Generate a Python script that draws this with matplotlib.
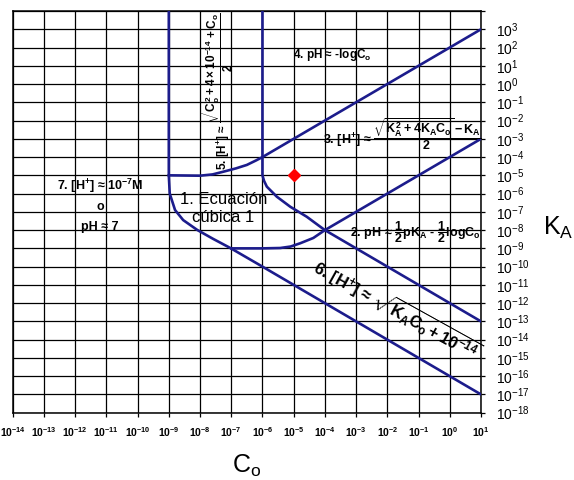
import numpy as np
import matplotlib
matplotlib.use("Agg")
import matplotlib.pyplot as plt

plt.rcParams['font.family'] = ['Liberation Sans', 'DejaVu Sans']
plt.rcParams['mathtext.fontset'] = 'custom'
plt.rcParams['mathtext.rm'] = 'Liberation Sans:bold'
plt.rcParams['mathtext.it'] = 'Liberation Sans:bold'
plt.rcParams['mathtext.bf'] = 'Liberation Sans:bold'
plt.rcParams['mathtext.sf'] = 'Liberation Sans'

# ---- data (log10 values) ----
x_decades = list(range(-14, 2))          # log10 Co ticks
y_decades = list(range(-18, 5))          # log10 KA ticks

# curve A: vertical at Co=1e-9, bends into slope -1 line (lower)
curveA_logC = [-9, -9, -8.97, -8.8, -8.54, -8.09, -7.58, -7.03, -6, -5, -4, -3, -2, -1, 0, 1]
curveA_logK = [4, -5, -6.0, -6.9, -7.45, -7.99, -8.48, -8.98, -10, -11, -12, -13, -14, -15, -16, -17]

# curve B: horizontal at KA=1e-5 rising into pH = -logCo boundary
curveB_logC = [-9, -8, -7.6, -7.25, -6.85, -6.5, -6.2, -6, -5, -4, -3, -2, -1, 0, 1]
curveB_logK = [-5, -5.02, -4.95, -4.8, -4.62, -4.43, -4.18, -4, -3, -2, -1, 0, 1, 2, 3]

# curve C: vertical at Co=1e-6, bends into slope -1 line (upper)
curveC_logC = [-6, -6, -5.95, -5.86, -5.54, -5.11, -4.58, -4.2, -4, -3, -2, -1, 0, 1]
curveC_logK = [4, -5.0, -5.3, -5.62, -6.17, -6.72, -7.27, -7.75, -8, -9, -10, -11, -12, -13]

# curve D: horizontal at KA=1e-9 rising into slope +1 line
curveD_logC = [-7, -6, -5.43, -5.1, -4.79, -4.37, -4, -3, -2, -1, 0, 1]
curveD_logK = [-9, -9, -8.98, -8.9, -8.72, -8.43, -8, -7, -6, -5, -4, -3]

point_logC = [-5]
point_logK = [-5]

LINE = '#1c1c8c'

fig = plt.figure(figsize=(5.74, 4.80), dpi=100)
ax = fig.add_axes([12.7/574, 1-412.7/480, (481-12.7)/574, (412.7-11)/480])
ax.set_xscale('log')
ax.set_yscale('log')
ax.set_xlim(10.0**-14, 10.0**1)
ax.set_ylim(10.0**-18, 10.0**4)

for lc, lk in [(curveA_logC, curveA_logK), (curveB_logC, curveB_logK),
               (curveC_logC, curveC_logK), (curveD_logC, curveD_logK)]:
    ax.plot(10.0**np.array(lc), 10.0**np.array(lk), color=LINE, lw=1.9,
            solid_joinstyle='round', zorder=3)

ax.plot(10.0**np.array(point_logC), 10.0**np.array(point_logK), 'D',
        color='#ff0000', ms=6, mec='#ff0000', zorder=4)

# grid
ax.set_xticks([10.0**k for k in x_decades])
ax.set_yticks([10.0**k for k in y_decades])
ax.minorticks_off()
ax.grid(True, which='major', color='black', lw=0.9)
ax.set_axisbelow(True)
for s in ax.spines.values():
    s.set_linewidth(1.1)
    s.set_color('black')

ax.set_xticklabels([r'$10^{%d}$' % k for k in x_decades], fontsize=7.5)
ax.set_yticklabels([r'$\mathsf{10^{%d}}$' % k if k != 4 else '' for k in y_decades],
                   fontsize=10)
ax.yaxis.tick_right()
ax.tick_params(axis='x', direction='out', length=3, width=0.9, pad=6)
ax.tick_params(axis='y', direction='out', length=3, width=0.9, pad=8)
for lab in ax.get_yticklabels():
    lab.set_horizontalalignment('left')

# axis titles
fig.text(232/574, 1-473/480, r'$\mathsf{C_o}$', fontsize=18, ha='left', va='baseline')
fig.text(543/574, 1-235/480, r'$\mathsf{K_A}$', fontsize=18, ha='left', va='baseline')

def P(lc, lk):
    return (10.0**lc, 10.0**lk)

tk = dict(fontweight='bold', color='black', zorder=5)

ax.text(*P(-5.02, 1.6), r'4. pH ≈ -logC$_{o}$', fontsize=8.5, ha='left', va='center', **tk)
ax.text(*P(-4.05, -2.75), r'3. [H$^{+}$] ≈ $\dfrac{\sqrt{K_A^{2} + 4K_AC_o} - K_A}{2}$',
        fontsize=9, ha='left', va='center', **tk)
ax.text(*P(-7.45, -0.38), r'5. [H$^{+}$] ≈ $\dfrac{\sqrt{C_o^{2} + 4\times10^{-14}} + C_o}{2}$',
        fontsize=8.5, ha='center', va='center', rotation=90, **tk)
ax.text(*P(-3.19, -8.12), r'2. pH ≈ $\dfrac{1}{2}$pK$_{A}$ - $\dfrac{1}{2}$logC$_{o}$',
        fontsize=9, ha='left', va='center', **tk)
ax.text(*P(-1.69, -12.37), r'6. [H$^{+}$] ≈ $\sqrt{K_AC_o + 10^{-14}}$',
        fontsize=12, ha='center', va='center', rotation=-29, rotation_mode='anchor', **tk)
ax.text(*P(-11.2, -5.58), r'7. [H$^{+}$] ≈ 10$^{-7}$M', fontsize=9, ha='center', va='center', **tk)
ax.text(*P(-11.2, -6.72), 'o', fontsize=9, ha='center', va='center', **tk)
ax.text(*P(-11.2, -7.83), 'pH ≈ 7', fontsize=9, ha='center', va='center', **tk)
ax.text(*P(-7.25, -6.82), '1. Ecuación\ncúbica 1', fontsize=12, ha='center', va='center',
        linespacing=1.2, color='black', zorder=5)

fig.savefig('out.png', dpi=100)
